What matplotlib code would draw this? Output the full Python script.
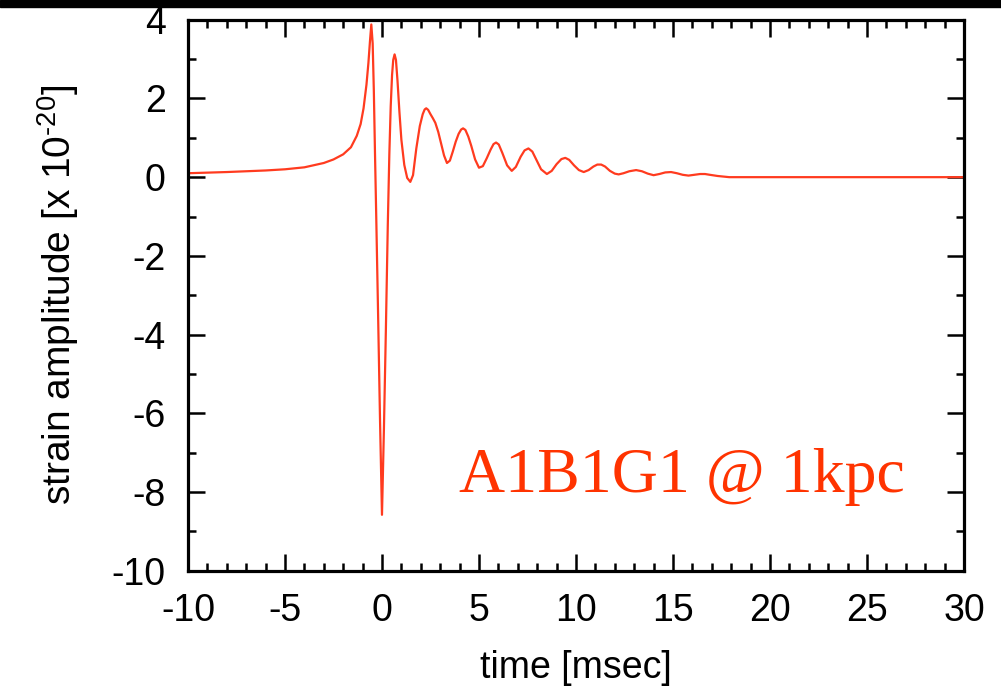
import matplotlib
matplotlib.use("Agg")
import matplotlib.pyplot as plt
from matplotlib.patches import Rectangle

plt.rcParams['font.family'] = ['Liberation Sans', 'DejaVu Sans']
plt.rcParams['mathtext.fontset'] = 'custom'
plt.rcParams['mathtext.rm'] = 'Liberation Sans'
plt.rcParams['mathtext.default'] = 'regular'
plt.rcParams['axes.unicode_minus'] = False

# waveform: time [msec], strain [x 1e-20]
t = [-10.0, -8.0, -6.0, -5.0, -4.0, -3.0, -2.5, -2.0, -1.6, -1.3, -1.1, -0.95,
     -0.8, -0.7, -0.62, -0.55, -0.48, -0.42, -0.36, -0.3, -0.2, -0.1, 0.0,
     0.1, 0.2, 0.3, 0.38, 0.45, 0.52, 0.58, 0.65, 0.72, 0.8, 0.9, 1.0, 1.15,
     1.3, 1.46, 1.6, 1.77, 1.95, 2.1, 2.2, 2.28, 2.38, 2.5, 2.62, 2.75, 2.9,
     3.05, 3.2, 3.35, 3.5, 3.65, 3.8, 3.95, 4.08, 4.18, 4.3, 4.45, 4.6, 4.8,
     5.0, 5.2, 5.4, 5.6, 5.75, 5.88, 6.02, 6.2, 6.45, 6.69, 6.9, 7.15, 7.35,
     7.55, 7.75, 7.95, 8.2, 8.5, 8.75, 9.0, 9.25, 9.45, 9.65, 9.9, 10.15,
     10.4, 10.65, 10.9, 11.1, 11.3, 11.5, 11.75, 12.0, 12.2, 12.45, 12.75,
     13.1, 13.4, 13.7, 14.0, 14.3, 14.6, 14.9, 15.2, 15.5, 15.8, 16.1, 16.4,
     16.65, 16.9, 17.3, 17.9, 30.0]
h = [0.10, 0.13, 0.17, 0.20, 0.25, 0.36, 0.45, 0.58, 0.76, 1.05, 1.35, 1.75,
     2.35, 2.9, 3.45, 3.88, 3.4, 2.2, 0.6, -0.9, -3.5, -6.2, -8.58,
     -6.4, -3.9, -1.2, 0.6, 1.8, 2.6, 2.98, 3.12, 2.98, 2.45, 1.65, 0.95, 0.31,
     -0.02, -0.12, 0.05, 0.73, 1.3, 1.6, 1.72, 1.75, 1.71, 1.6, 1.5, 1.38, 1.15,
     0.85, 0.55, 0.36, 0.42, 0.65, 0.9, 1.1, 1.21, 1.24, 1.2, 1.03, 0.8, 0.45,
     0.24, 0.28, 0.48, 0.7, 0.84, 0.88, 0.83, 0.62, 0.3, 0.16, 0.26, 0.52, 0.68,
     0.73, 0.65, 0.45, 0.2, 0.08, 0.16, 0.33, 0.46, 0.49, 0.44, 0.3, 0.18,
     0.13, 0.18, 0.27, 0.32, 0.32, 0.27, 0.16, 0.09, 0.07, 0.1, 0.15,
     0.18, 0.15, 0.09, 0.05, 0.08, 0.12, 0.13, 0.1, 0.06, 0.04, 0.06, 0.08,
     0.08, 0.06, 0.03, 0.0, 0.0]

xticks = [-10, -5, 0, 5, 10, 15, 20, 25, 30]
yticks = [-10, -8, -6, -4, -2, 0, 2, 4]

fig = plt.figure(figsize=(10.01, 6.93), dpi=100)
ax = fig.add_axes([0.1878, 0.1765, 0.7752, 0.795])

ax.plot(t, h, color='#ff3b1f', lw=1.6, solid_joinstyle='round')
ax.set_xlim(-10, 30)
ax.set_ylim(-10, 4)
ax.set_xticks(xticks)
ax.set_yticks(yticks)
ax.set_xticks(range(-10, 31), minor=True)
ax.set_yticks(range(-10, 5), minor=True)
ax.tick_params(which='both', direction='in', top=True, right=True, width=1.8,
               labelsize=27)
ax.tick_params(which='major', length=12, pad=16)
ax.tick_params(which='minor', length=6)
for s in ax.spines.values():
    s.set_linewidth(2.3)

ax.set_xlabel('time [msec]', fontsize=27, labelpad=15)
ax.set_ylabel(r'strain amplitude [x 10$^{\text{-20}}$]', fontsize=28, labelpad=22)

ax.text(3.95, -8.0, 'A1B1G1 @ 1kpc', color='#ff3300', fontsize=46,
        family=['Liberation Serif', 'DejaVu Serif'], ha='left', va='baseline')

# dark strip along the top edge of the slide
fig.patches.append(Rectangle((0, 1 - 7 / 693), 1, 7 / 693, transform=fig.transFigure,
                             color='black', zorder=10))

fig.savefig('out.png', dpi=100)
